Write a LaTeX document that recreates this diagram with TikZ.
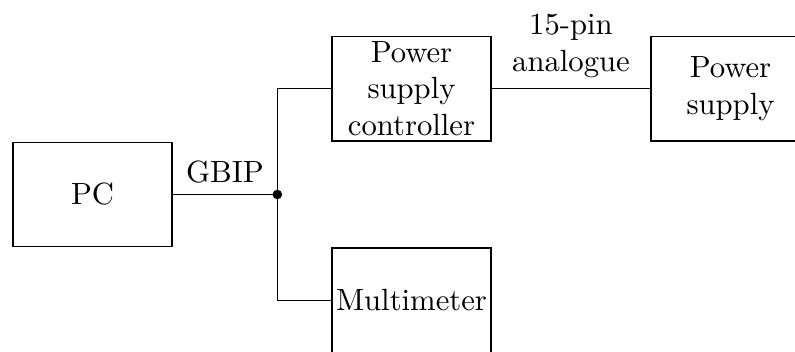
\documentclass[tikz,border=0pt]{standalone}
\usetikzlibrary{positioning, calc}
\tikzstyle{box} = [rectangle, draw, align=center, text width=1.75cm, minimum height=1.2cm, minimum width=1.82cm, inner sep=0pt]
\tikzstyle{junction} = [circle, fill, inner sep=1.1pt]

\begin{document}
\begin{tikzpicture}[node distance=1.82cm]
    \useasboundingbox (-1.06,-1.793) rectangle (8.047,2.228);

    % Instruments
    \node (pc) [box] {PC};
    \node (psc) [box, above right=0cm and 1.82cm of pc] {Power supply controller};
    \node (dmm) [box, below right=0cm and 1.82cm of pc] {Multimeter};
    \node (psu) [box, right=of psc] {Power supply};

    % GBIP bus
    \coordinate[right=1.2cm of pc.east] (bus);
    \node (dot) [junction] at (bus) {};
    \draw (pc) -- node[above] {GBIP} (bus);
    \draw (psc.west) -| (bus) |- (dmm.west);

    % Analogue link
    \draw (psc) -- node[above, align=center] {15-pin\\analogue} (psu);
\end{tikzpicture}
\end{document}
